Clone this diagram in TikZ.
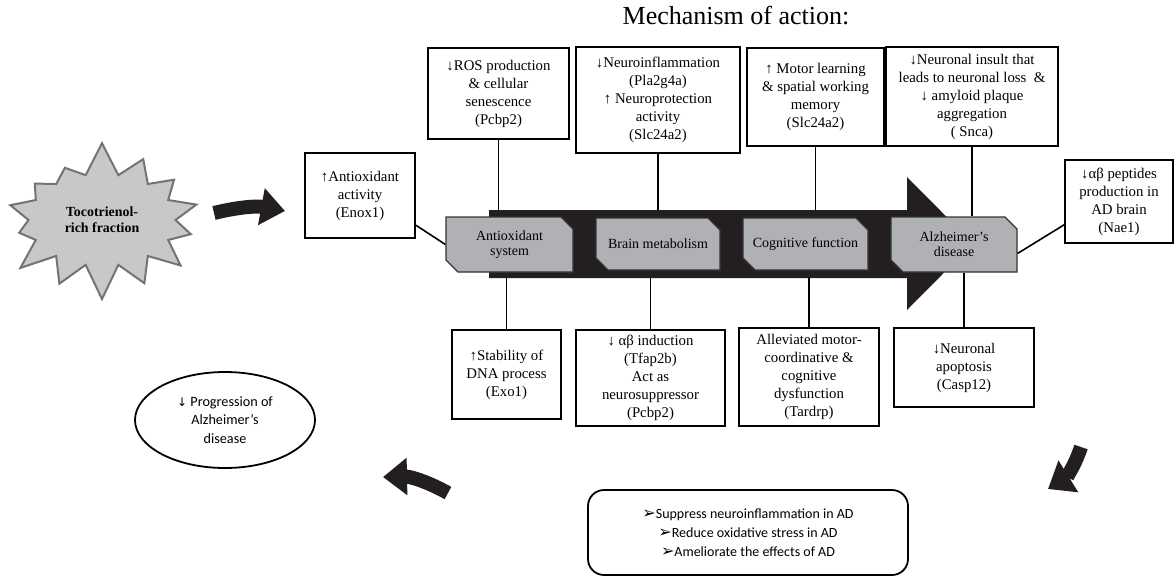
\documentclass[tikz,border=0pt]{standalone}
\usepackage{fontspec}
\setmainfont{Liberation Serif}
\newfontfamily\calfont{Carlito}
\newfontfamily\symfont{DejaVu Sans}
\usepackage{tikz}
\usetikzlibrary{arrows.meta,shapes.misc,shapes.symbols,shapes.geometric}
\definecolor{stagegray}{RGB}{176,177,180}
\definecolor{burstgray}{RGB}{200,200,200}
\definecolor{bandblack}{RGB}{35,31,32}

\begin{document}
\begin{tikzpicture} [x=1pt, y=-1pt,
    box/.style={draw,line width=1.8pt,align=center,inner sep=2pt,font=\fontsize{14.8}{18}\selectfont},
    stage/.style={chamfered rectangle,chamfered rectangle corners={north east,south west},
      chamfered rectangle xsep=6pt,chamfered rectangle ysep=6pt,
      fill=stagegray,draw=black!80,line width=1.2pt,align=center,inner sep=1pt,
      font=\fontsize{14}{15}\selectfont},
    link/.style={line width=1.6pt},
    bigarrow/.style={line width=14pt,bandblack,-{Triangle[length=24pt,width=36pt]}}
  ]
  \useasboundingbox (0,0) rectangle (1176,576);

  \node[font=\fontsize{26}{30}\selectfont] (title) at (736,16) {Mechanism of action:};

  \node[starburst,starburst points=14,starburst point height=34pt,random starburst=7,
    fill=burstgray,draw=black!55,line width=2pt,align=center,
    minimum width=215pt,minimum height=160pt,
    font=\fontsize{13.9}{16}\selectfont\bfseries] (trf) at (102,220) {Tocotrienol-\\rich fraction};

  % central arrow
  \fill[bandblack] (489,210) -- (907,210) -- (907,177) -- (973,243.5)
    -- (907,310) -- (907,278) -- (489,278) -- cycle;
  \coordinate (bandtop) at (0,210);
  \coordinate (bandbot) at (0,278);

  \node[stage,minimum width=127pt,minimum height=55pt] (b1) at (509.5,244.5) {Antioxidant\\system};
  \node[stage,minimum width=124pt,minimum height=52pt] (b2) at (658,244) {Brain metabolism};
  \node[stage,minimum width=125pt,minimum height=52pt] (b3) at (805.5,244) {Cognitive function};
  \node[stage,minimum width=126pt,minimum height=55pt] (b4) at (954,244.5) {Alzheimer’s\\disease};

  \node[box,minimum width=110pt,minimum height=85pt] (enox) at (360,195.5) {↑Antioxidant\\activity\\(Enox1)};
  \node[box,minimum width=141pt,minimum height=91pt] (t1) at (498.5,93.5) {↓ROS production\\\& cellular\\senescence\\(Pcbp2)};
  \node[box,minimum width=164pt,minimum height=106pt] (t2) at (658,100) {↓Neuroinflammation\\(Pla2g4a)\\↑ Neuroprotection\\activity\\(Slc24a2)};
  \node[box,minimum width=137pt,minimum height=98pt] (t3) at (815.5,97) {↑ Motor learning\\\& spatial working\\memory\\(Slc24a2)};
  \node[box,minimum width=172pt,minimum height=99pt] (t4) at (972,96.5) {↓Neuronal insult that\\leads to neuronal loss \ \&\\↓ amyloid plaque\\aggregation\\( Snca)};
  \node[box,minimum width=108pt,minimum height=83pt] (nae) at (1119,201.5) {↓αβ peptides\\production in\\AD brain\\(Nae1)};

  \node[box,minimum width=109pt,minimum height=89pt] (bo1) at (506.5,374.5) {↑Stability of\\DNA process\\(Exo1)};
  \node[box,minimum width=149pt,minimum height=96pt] (bo2) at (650.5,378) {↓ αβ induction\\(Tfap2b)\\Act as\\neurosuppressor\\(Pcbp2)};
  \node[box,minimum width=140pt,minimum height=98pt] (bo3) at (809,377) {Alleviated motor-\\coordinative \&\\cognitive\\dysfunction\\(Tardrp)};
  \node[box,minimum width=140pt,minimum height=79pt] (bo4) at (964,367.5) {↓Neuronal\\apoptosis\\(Casp12)};

  \path[link]
  (t1.south) edge (t1.south |- bandtop)
  (t2.south) edge (t2.south |- bandtop)
  (t3.south) edge (t3.south |- bandtop)
  (t4.south) edge (t4.south |- b4.north)
  (bo1.north |- bandbot) edge (bo1.north)
  (bo2.north |- bandbot) edge (bo2.north)
  (bo3.north |- bandbot) edge (bo3.north)
  (bo4.north |- b4.south) edge (bo4.north)
  (enox.-28) edge (b1.west)
  (nae.203) edge (b4.-8)
  ;

  \node[draw,line width=1.8pt,rounded corners=16pt,minimum width=320pt,minimum height=85pt,
    align=center,font=\calfont\fontsize{14}{19}\selectfont] (sum) at (748,532.5)
    {{\symfont\fontsize{16}{19}\selectfont ➢}Suppress neuroinflammation in AD\\
     {\symfont\fontsize{16}{19}\selectfont ➢}Reduce oxidative stress in AD\\
     {\symfont\fontsize{16}{19}\selectfont ➢}Ameliorate the effects of AD};

  \node[ellipse,draw,line width=1.8pt,minimum width=180pt,minimum height=96pt,
    align=center,font=\calfont\fontsize{14.2}{18.5}\selectfont] (prog) at (225,420)
    {{\symfont\fontsize{12}{18}\selectfont ↓} Progression of\\Alzheimer’s\\disease};

  % curved arrows
  \coordinate (a1s) at (214,213);
  \coordinate (a1e) at (285,211);
  \coordinate (a2s) at (448,493);
  \coordinate (a2e) at (383,477);
  \coordinate (a3s) at (1081,447);
  \coordinate (a3e) at (1048,489);
  \draw[bigarrow] (a1s) to[bend left=12] (a1e);
  \draw[bigarrow] (a2s) to[bend right=15] (a2e);
  \draw[bigarrow] (a3s) to[bend left=20] (a3e);
\end{tikzpicture}
\end{document}
